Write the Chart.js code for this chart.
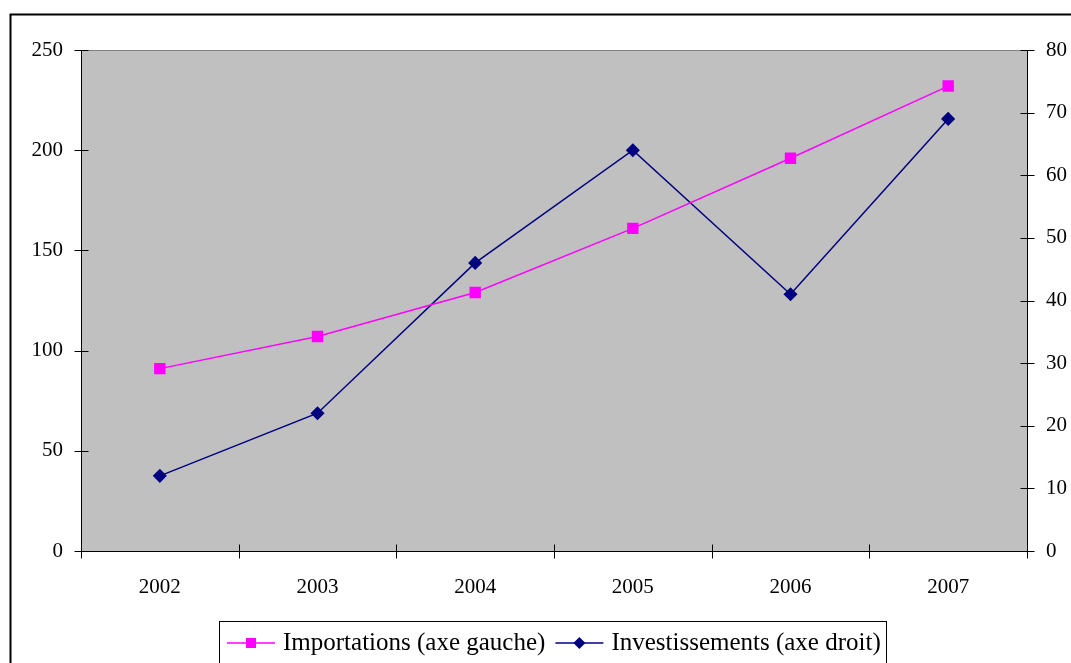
<!DOCTYPE html>
<html>
<head>
<meta charset="utf-8">
<script src="https://cdn.jsdelivr.net/npm/chart.js@4.4.0/dist/chart.umd.min.js"></script>
<style>
  html, body { margin: 0; padding: 0; background: #fff; }
  #wrap { width: 1071px; height: 663px; }
</style>
</head>
<body>
<div id="wrap"><canvas id="chart" width="1071" height="663"></canvas></div>
<script>
const years = ['2002', '2003', '2004', '2005', '2006', '2007'];
const importations = [91, 107, 129, 161, 196, 232];
const investissements = [12, 22, 46, 64, 41, 69];
const leftMax = 250, leftStep = 50;
const rightMax = 80, rightStep = 10;

const FONT = '"Liberation Serif", "Times New Roman", serif';

// gray plot area, black axes with ticks crossing the axis lines, outer frame
const frame = {
  id: 'frame',
  beforeDatasetsDraw(chart) {
    const { ctx, chartArea: a } = chart;
    ctx.save();
    ctx.fillStyle = '#c0c0c0';
    ctx.fillRect(a.left, a.top, a.right - a.left, a.bottom - a.top);
    ctx.strokeStyle = '#808080';
    ctx.lineWidth = 1;
    ctx.beginPath();
    ctx.moveTo(a.left, a.top + 0.5);
    ctx.lineTo(a.right, a.top + 0.5);
    ctx.stroke();
    ctx.restore();
  },
  afterDatasetsDraw(chart) {
    const { ctx, chartArea: a, scales } = chart;
    ctx.save();
    ctx.strokeStyle = '#000';
    ctx.lineWidth = 1;
    ctx.beginPath();
    const l = Math.round(a.left) + 0.5, r = Math.round(a.right) + 0.5, b = Math.round(a.bottom) + 0.5;
    ctx.moveTo(l, a.top); ctx.lineTo(l, b);
    ctx.moveTo(r, a.top); ctx.lineTo(r, b);
    ctx.moveTo(a.left, b); ctx.lineTo(a.right + 1, b);
    scales.y.ticks.forEach(t => {
      const y = Math.round(scales.y.getPixelForValue(t.value)) + 0.5;
      ctx.moveTo(l - 7, y); ctx.lineTo(l + 7, y);
    });
    scales.y1.ticks.forEach(t => {
      const y = Math.round(scales.y1.getPixelForValue(t.value)) + 0.5;
      ctx.moveTo(r - 7, y); ctx.lineTo(r + 7, y);
    });
    const half = (scales.x.getPixelForValue(1) - scales.x.getPixelForValue(0)) / 2;
    for (let i = 0; i <= years.length; i++) {
      const x = Math.round(scales.x.getPixelForValue(i) - half) + 0.5;
      ctx.moveTo(x, b - 7); ctx.lineTo(x, b + 7);
    }
    ctx.stroke();
    ctx.lineWidth = 2;
    ctx.strokeRect(10.5, 14.5, 1200, 800);
    ctx.restore();
  }
};

// Excel-style boxed legend with line + marker samples
const boxLegend = {
  id: 'boxLegend',
  afterDraw(chart) {
    const { ctx } = chart;
    ctx.save();
    ctx.font = '25px ' + FONT;
    ctx.textBaseline = 'middle';
    ctx.strokeStyle = '#000';
    ctx.lineWidth = 1;
    ctx.fillStyle = '#fff';
    ctx.fillRect(219.5, 621.5, 667, 60);
    ctx.strokeRect(219.5, 621.5, 667, 60);
    let x = 227;
    const y = 643;
    chart.data.datasets.forEach((ds, i) => {
      ctx.strokeStyle = ds.borderColor;
      ctx.lineWidth = 1.5;
      ctx.beginPath();
      ctx.moveTo(x, y); ctx.lineTo(x + 48, y);
      ctx.stroke();
      Chart.helpers.drawPoint(ctx, {
        pointStyle: ds.pointStyle, rotation: 0,
        borderWidth: 1
      }, x + 24, y);
      ctx.fillStyle = ds.pointBackgroundColor;
      ctx.beginPath();
      if (ds.pointStyle === 'rect') {
        ctx.rect(x + 19, y - 5, 10, 10);
      } else {
        ctx.moveTo(x + 24, y - 6); ctx.lineTo(x + 30, y);
        ctx.lineTo(x + 24, y + 6); ctx.lineTo(x + 18, y);
        ctx.closePath();
      }
      ctx.fill();
      ctx.fillStyle = '#000';
      ctx.fillText(ds.label, x + 56, y);
      x += 56 + ctx.measureText(ds.label).width + 10;
    });
    ctx.restore();
  }
};

new Chart(document.getElementById('chart'), {
  type: 'line',
  data: {
    labels: years,
    datasets: [
      {
        label: 'Importations (axe gauche)',
        data: importations,
        yAxisID: 'y',
        borderColor: '#ff00ff',
        backgroundColor: '#ff00ff',
        pointBackgroundColor: '#ff00ff',
        pointBorderColor: '#ff00ff',
        pointStyle: 'rect',
        pointRadius: 7,
        borderWidth: 1.5,
        tension: 0
      },
      {
        label: 'Investissements (axe droit)',
        data: investissements,
        yAxisID: 'y1',
        borderColor: '#000080',
        backgroundColor: '#000080',
        pointBackgroundColor: '#000080',
        pointBorderColor: '#000080',
        pointStyle: 'rectRot',
        pointRadius: 6,
        borderWidth: 1.5,
        tension: 0
      }
    ]
  },
  options: {
    responsive: false,
    animation: false,
    layout: { padding: { top: 50, left: 0, right: 0, bottom: 0 } },
    plugins: { legend: { display: false }, tooltip: { enabled: false } },
    scales: {
      x: {
        offset: true,
        grid: { display: false, drawTicks: false },
        border: { display: false },
        ticks: { color: '#000', font: { family: FONT, size: 21 }, padding: 24, maxRotation: 0 },
        afterFit: s => { s.height = 112; }
      },
      y: {
        position: 'left',
        min: 0, max: leftMax,
        grid: { display: false, drawTicks: false },
        border: { display: false },
        ticks: { stepSize: leftStep, color: '#000', font: { family: FONT, size: 21 }, padding: 18 },
        afterFit: s => { s.width = 81; }
      },
      y1: {
        position: 'right',
        min: 0, max: rightMax,
        grid: { display: false, drawTicks: false },
        border: { display: false },
        ticks: { stepSize: rightStep, color: '#000', font: { family: FONT, size: 21 }, padding: 19 },
        afterFit: s => { s.width = 44; }
      }
    }
  },
  plugins: [frame, boxLegend]
});
</script>
</body>
</html>
